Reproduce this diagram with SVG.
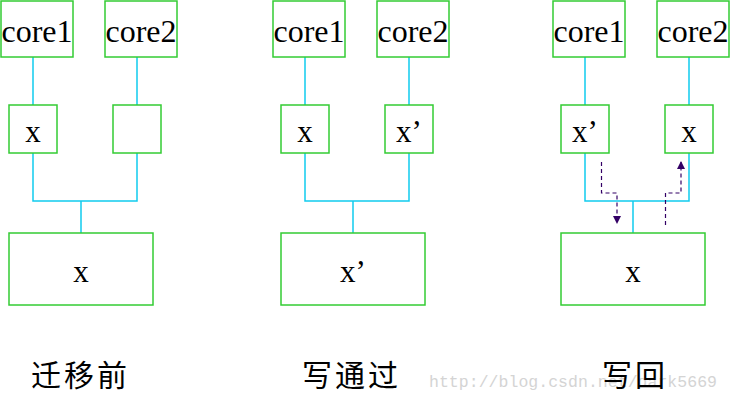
<svg xmlns="http://www.w3.org/2000/svg" width="730" height="401" viewBox="0 0 730 401">
<defs>
<style>
.box{fill:#fff;stroke:#33cc33;stroke-width:1.5}
.wire{fill:none;stroke:#11ccee;stroke-width:1.5}
.dash{fill:none;stroke:#330066;stroke-width:1.2;stroke-dasharray:4 3}
.core{font-family:"Liberation Serif","Times New Roman",serif;font-size:32px;text-anchor:middle;fill:#000}
.var{font-family:"Liberation Serif","Times New Roman",serif;font-size:31px;text-anchor:middle;fill:#000}
.cap{font-family:"Noto Sans CJK SC","Noto Sans",sans-serif;font-size:30px;letter-spacing:3px;fill:#000}
.wm{font-family:"Liberation Mono","Courier New",monospace;font-size:16.5px;fill:#d4d4d4}
</style>
<marker id="ah" viewBox="0 0 8 8" refX="7" refY="4" markerWidth="8" markerHeight="8" markerUnits="userSpaceOnUse" orient="auto">
<path d="M0,0 L8,4 L0,8 Z" fill="#330066"/>
</marker>
</defs>
<rect width="730" height="401" fill="#fff"/>
<g id="watermark"><text class="wm" x="429" y="387" textLength="288">http://blog.csdn.net/dark5669</text></g>
<g id="connectors">
<path class="wire" d="M33,57V105M137,57V105M33,153V201H137V153M81,201V233"/>
<path class="wire" d="M305,57V105M409,57V105M305,153V201H409V153M353,201V233"/>
<path class="wire" d="M585,57V105M689,57V105M585,153V201H689V153M633,201V233"/>
<path class="dash" d="M601.5,162V193H617V223" marker-end="url(#ah)"/>
<path class="dash" d="M665.5,225V193H681V162" marker-end="url(#ah)"/>
</g>
<g id="p1-core1"><rect class="box" x="1" y="1" width="72" height="56"/><text class="core" x="37" y="42">core1</text></g>
<g id="p1-core2"><rect class="box" x="105" y="1" width="72" height="56"/><text class="core" x="141" y="42">core2</text></g>
<g id="p1-cache1"><rect class="box" x="9" y="105" width="48" height="48"/><text class="var" x="33" y="142">x</text></g>
<g id="p1-cache2"><rect class="box" x="113" y="105" width="48" height="48"/></g>
<g id="p1-mem"><rect class="box" x="9" y="233" width="144" height="72"/><text class="var" x="81" y="282">x</text></g>
<g id="p2-core1"><rect class="box" x="273" y="1" width="72" height="56"/><text class="core" x="309" y="42">core1</text></g>
<g id="p2-core2"><rect class="box" x="377" y="1" width="72" height="56"/><text class="core" x="413" y="42">core2</text></g>
<g id="p2-cache1"><rect class="box" x="281" y="105" width="48" height="48"/><text class="var" x="305" y="142">x</text></g>
<g id="p2-cache2"><rect class="box" x="385" y="105" width="48" height="48"/><text class="var" x="409" y="142">x’</text></g>
<g id="p2-mem"><rect class="box" x="281" y="233" width="144" height="72"/><text class="var" x="353" y="282">x’</text></g>
<g id="p3-core1"><rect class="box" x="553" y="1" width="72" height="56"/><text class="core" x="589" y="42">core1</text></g>
<g id="p3-core2"><rect class="box" x="657" y="1" width="72" height="56"/><text class="core" x="693" y="42">core2</text></g>
<g id="p3-cache1"><rect class="box" x="561" y="105" width="48" height="48"/><text class="var" x="585" y="142">x’</text></g>
<g id="p3-cache2"><rect class="box" x="665" y="105" width="48" height="48"/><text class="var" x="689" y="142">x</text></g>
<g id="p3-mem"><rect class="box" x="561" y="233" width="144" height="72"/><text class="var" x="633" y="282">x</text></g>
<g id="captions">
<text class="cap" x="31" y="386">迁移前</text>
<text class="cap" x="302" y="386">写通过</text>
<text class="cap" x="602" y="386">写回</text>
</g>
</svg>
